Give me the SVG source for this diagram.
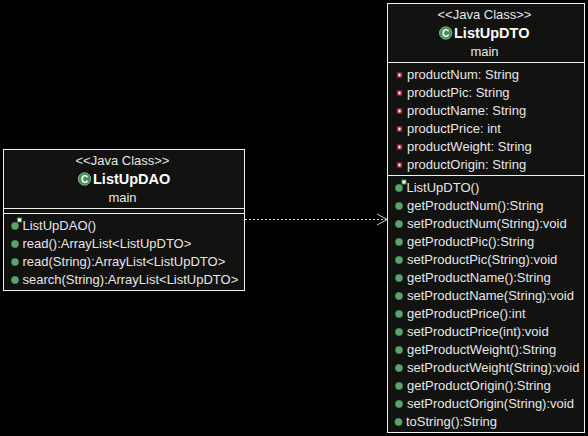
<svg xmlns="http://www.w3.org/2000/svg" width="588" height="436" viewBox="0 0 588 436">
<style>
text{font-family:"Liberation Sans",Arial,sans-serif;font-size:13px;fill:#e6e6e6}
.c{text-anchor:middle}
.t{font-size:14.5px;font-weight:bold;fill:#fff}
.box{fill:#121210;stroke:#f0f0f0;stroke-width:1}
.sep{stroke:#f0f0f0;stroke-width:1}
.m{fill:#5aa56c;stroke:#3f7f50;stroke-width:.6}
.f{fill:#b83040;stroke:#802030;stroke-width:.5}
.fi{fill:#fff}
.ctor{fill:#fff;stroke:#3a9a3a;stroke-width:1}
.ci{fill:#3f8f55;stroke:#a0c8a8;stroke-width:.8}
.cl{font-size:10px;font-weight:bold;fill:#fff}
</style>
<defs>
<g id="field"><rect class="f" x="-2.500" y="-2.500" width="5" height="5"/><path class="fi" d="M-1.500 -.5H-.5V-1.500H.5V-.5H1.500V.5H.5V1.500H-.5V.5H-1.500Z"/></g>
<circle id="method" class="m" r="3.700"/>
</defs>
<rect width="588" height="436" fill="#000"/>
<g id="connectors">
<line x1="245" y1="219.500" x2="386" y2="219.500" stroke="#e0e0e0" stroke-width="1" stroke-dasharray="2 2"/>
<path d="M377 214L387 219.500L377 225" fill="none" stroke="#d0d0d0" stroke-width="1"/>
</g>
<g id="ListUpDAO">
<rect class="box" x="3.500" y="149.500" width="241" height="141"/>
<line class="sep" x1="3.500" y1="208.500" x2="244.500" y2="208.500"/>
<line class="sep" x1="3.500" y1="213.500" x2="244.500" y2="213.500"/>
<text class="c" x="122.500" y="165">&lt;&lt;Java Class&gt;&gt;</text>
<circle class="ci" cx="84.500" cy="179" r="6.200"/><text class="cl c" x="84.500" y="182.500">C</text>
<text x="93" y="184" class="t">ListUpDAO</text>
<text class="c" x="122.500" y="202">main</text>
<use href="#method" x="15" y="226"/><rect class="ctor" x="17.500" y="218" width="4" height="4"/>
<text x="22.500" y="230">ListUpDAO()</text>
<use href="#method" x="15" y="244"/><text x="22.500" y="248">read():ArrayList&lt;ListUpDTO&gt;</text>
<use href="#method" x="15" y="262"/><text x="22.500" y="266">read(String):ArrayList&lt;ListUpDTO&gt;</text>
<use href="#method" x="15" y="280"/><text x="22.500" y="284">search(String):ArrayList&lt;ListUpDTO&gt;</text>
</g>
<g id="ListUpDTO">
<rect class="box" x="387.500" y="3.500" width="197" height="429"/>
<line class="sep" x1="387.500" y1="62.500" x2="584.500" y2="62.500"/>
<line class="sep" x1="387.500" y1="175.500" x2="584.500" y2="175.500"/>
<text class="c" x="484.500" y="19">&lt;&lt;Java Class&gt;&gt;</text>
<circle class="ci" cx="445.700" cy="33" r="6.200"/><text class="cl c" x="445.700" y="36.500">C</text>
<text x="454" y="38" class="t">ListUpDTO</text>
<text class="c" x="484.500" y="56">main</text>
<use href="#field" x="399.500" y="75"/><text x="407" y="79">productNum: String</text>
<use href="#field" x="399.500" y="93"/><text x="407" y="97">productPic: String</text>
<use href="#field" x="399.500" y="111"/><text x="407" y="115">productName: String</text>
<use href="#field" x="399.500" y="129"/><text x="407" y="133">productPrice: int</text>
<use href="#field" x="399.500" y="147"/><text x="407" y="151">productWeight: String</text>
<use href="#field" x="399.500" y="165"/><text x="407" y="169">productOrigin: String</text>
<use href="#method" x="399" y="188"/><rect class="ctor" x="402" y="180" width="4" height="4"/>
<text x="406.500" y="192">ListUpDTO()</text>
<use href="#method" x="399" y="206"/><text x="407" y="210">getProductNum():String</text>
<use href="#method" x="399" y="224"/><text x="407" y="228">setProductNum(String):void</text>
<use href="#method" x="399" y="242"/><text x="407" y="246">getProductPic():String</text>
<use href="#method" x="399" y="260"/><text x="407" y="264">setProductPic(String):void</text>
<use href="#method" x="399" y="278"/><text x="407" y="282">getProductName():String</text>
<use href="#method" x="399" y="296"/><text x="407" y="300">setProductName(String):void</text>
<use href="#method" x="399" y="314"/><text x="407" y="318">getProductPrice():int</text>
<use href="#method" x="399" y="332"/><text x="407" y="336">setProductPrice(int):void</text>
<use href="#method" x="399" y="350"/><text x="407" y="354">getProductWeight():String</text>
<use href="#method" x="399" y="368"/><text x="407" y="372">setProductWeight(String):void</text>
<use href="#method" x="399" y="386"/><text x="407" y="390">getProductOrigin():String</text>
<use href="#method" x="399" y="404"/><text x="407" y="408">setProductOrigin(String):void</text>
<use href="#method" x="398.500" y="422"/><text x="406" y="426">toString():String</text>
</g>
</svg>
